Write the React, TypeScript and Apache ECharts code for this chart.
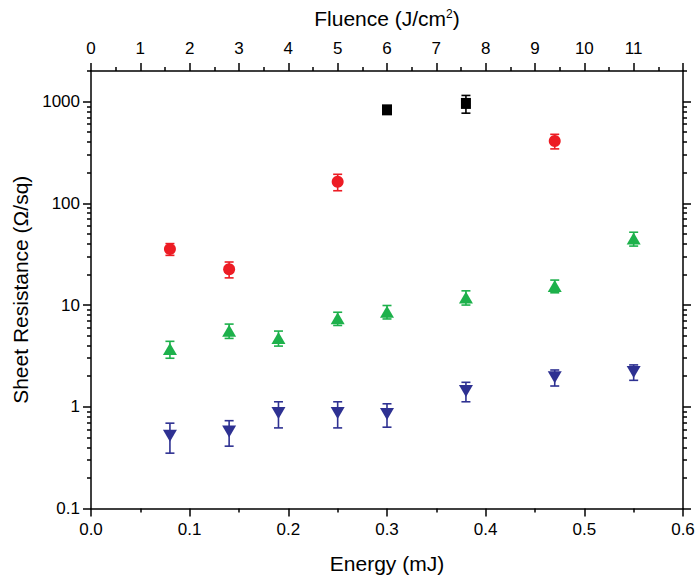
import React, { useEffect, useRef } from "react";
import * as echarts from "echarts";

// ---- data ----
const energyBlack = [0.3, 0.38];
const resBlack = [830, 960];
const errBlack = [50, 190];

const energyRed = [0.08, 0.14, 0.25, 0.47];
const resRed = [35.5, 22.5, 163, 410];
const errRed = [4.7, 4, 30, 67];

const energyGreen = [0.08, 0.14, 0.19, 0.25, 0.3, 0.38, 0.47, 0.55];
const resGreen = [3.7, 5.6, 4.75, 7.4, 8.6, 11.9, 15.4, 45];
const errGreen = [0.7, 0.9, 0.8, 1.1, 1.3, 1.9, 2.2, 7];

const energyBlue = [0.08, 0.14, 0.19, 0.25, 0.3, 0.38, 0.47, 0.55];
const resBlue = [0.52, 0.57, 0.87, 0.87, 0.85, 1.43, 1.95, 2.2];
const errBlue = [0.17, 0.16, 0.25, 0.25, 0.22, 0.31, 0.35, 0.38];

const yMajorTicks = [0.1, 1, 10, 100, 1000];
const yMinorTicks = [
  0.2, 0.3, 0.4, 0.5, 0.6, 0.7, 0.8, 0.9,
  2, 3, 4, 5, 6, 7, 8, 9,
  20, 30, 40, 50, 60, 70, 80, 90,
  200, 300, 400, 500, 600, 700, 800, 900,
  2000,
];

const FONT = "'Liberation Sans', Arial, Helvetica, sans-serif";
const BLACK = "#000000";
const RED = "#ED1C24";
const GREEN = "#1DB14B";
const BLUE = "#2E3192";

const TICK_FS = 17;
const TITLE_FS = 21;

const pts = (xs: number[], ys: number[]) => xs.map((x, i) => [x, ys[i]]);
const errs = (xs: number[], ys: number[], es: number[]) =>
  xs.map((x, i) => [x, ys[i] - es[i], ys[i] + es[i]]);

function errorSeries(data: number[][], color: string) {
  return {
    type: "custom",
    xAxisIndex: 0,
    yAxisIndex: 0,
    clip: false,
    z: 2,
    data,
    encode: { x: 0, y: [1, 2] },
    renderItem: (params: any, api: any) => {
      const x = api.value(0);
      const lo = api.coord([x, api.value(1)]);
      const hi = api.coord([x, api.value(2)]);
      const w = 4.5;
      const st = { stroke: color, lineWidth: 1.6 };
      return {
        type: "group",
        children: [
          { type: "line", shape: { x1: lo[0], y1: lo[1], x2: hi[0], y2: hi[1] }, style: st },
          { type: "line", shape: { x1: lo[0] - w, y1: lo[1], x2: lo[0] + w, y2: lo[1] }, style: st },
          { type: "line", shape: { x1: hi[0] - w, y1: hi[1], x2: hi[0] + w, y2: hi[1] }, style: st },
        ],
      };
    },
  };
}

const axisLineStyle = { color: "#000", width: 1.5 };

export default function App() {
  const ref = useRef<HTMLDivElement>(null);
  useEffect(() => {
    if (!ref.current) return;
    const chart = echarts.init(ref.current, undefined, { renderer: "svg" });
    const yCommon = {
      type: "log",
      logBase: 10,
      min: 0.1,
      max: 2000,
      splitLine: { show: false },
      minorTick: { show: false },
    };
    const option: any = {
      animation: false,
      textStyle: { fontFamily: FONT, color: "#000" },
      grid: { left: 91, right: 16, top: 71, bottom: 78.5, containLabel: false },
      xAxis: [
        {
          type: "value",
          position: "bottom",
          min: 0,
          max: 0.6,
          interval: 0.1,
          name: "Energy (mJ)",
          nameLocation: "middle",
          nameGap: 44,
          nameTextStyle: { fontSize: TITLE_FS, color: "#000", fontFamily: FONT },
          axisLine: { show: true, onZero: false, lineStyle: axisLineStyle },
          axisTick: { show: true, length: 8, lineStyle: axisLineStyle },
          minorTick: { show: true, splitNumber: 2, length: 4, lineStyle: axisLineStyle },
          axisLabel: {
            formatter: (v: number) => v.toFixed(1),
            margin: 12,
            fontSize: TICK_FS,
            color: "#000",
            fontFamily: FONT,
          },
          splitLine: { show: false },
        },
        {
          type: "value",
          position: "top",
          min: 0,
          max: 12,
          interval: 1,
          name: "Fluence (J/cm{sup|2})",
          nameLocation: "middle",
          nameGap: 42,
          nameTextStyle: {
            fontSize: TITLE_FS,
            color: "#000",
            fontFamily: FONT,
            rich: {
              sup: { fontSize: 12, verticalAlign: "top", color: "#000", fontFamily: FONT, padding: [0, 0, 7, 0] },
            },
          },
          axisLine: { show: true, onZero: false, lineStyle: axisLineStyle },
          axisTick: { show: true, length: 8, lineStyle: axisLineStyle },
          minorTick: { show: true, splitNumber: 2, length: 4, lineStyle: axisLineStyle },
          axisLabel: {
            showMaxLabel: false,
            margin: 14,
            fontSize: TICK_FS,
            color: "#000",
            fontFamily: FONT,
          },
          splitLine: { show: false },
        },
      ],
      yAxis: [
        {
          ...yCommon,
          position: "left",
          name: "Sheet Resistance (\u03A9/sq)",
          nameLocation: "middle",
          nameGap: 54,
          nameTextStyle: { fontSize: TITLE_FS, color: "#000", fontFamily: FONT },
          axisLine: { show: true, onZero: false, lineStyle: axisLineStyle },
          axisTick: { show: true, length: 8, lineStyle: axisLineStyle, customValues: yMajorTicks },
          axisLabel: {
            customValues: yMajorTicks,
            formatter: (v: number) => (v < 1 ? v.toFixed(1) : v.toFixed(0)),
            margin: 11,
            fontSize: TICK_FS,
            color: "#000",
            fontFamily: FONT,
          },
        },
        {
          ...yCommon,
          position: "right",
          axisLine: { show: true, onZero: false, lineStyle: axisLineStyle },
          axisTick: { show: true, length: 8, lineStyle: axisLineStyle, customValues: yMajorTicks },
          axisLabel: { show: false },
        },
        {
          ...yCommon,
          position: "left",
          axisLine: { show: false, onZero: false },
          axisTick: { show: true, length: 4, lineStyle: axisLineStyle, customValues: yMinorTicks },
          axisLabel: { show: false },
        },
        {
          ...yCommon,
          position: "right",
          axisLine: { show: false, onZero: false },
          axisTick: { show: true, length: 4, lineStyle: axisLineStyle, customValues: yMinorTicks },
          axisLabel: { show: false },
        },
      ],
      series: [
        errorSeries(errs(energyBlack, resBlack, errBlack), BLACK),
        errorSeries(errs(energyRed, resRed, errRed), RED),
        errorSeries(errs(energyGreen, resGreen, errGreen), GREEN),
        errorSeries(errs(energyBlue, resBlue, errBlue), BLUE),
        {
          type: "scatter",
          xAxisIndex: 0,
          yAxisIndex: 0,
          z: 3,
          symbol: "rect",
          symbolSize: [10, 11],
          itemStyle: { color: BLACK, opacity: 1 },
          data: pts(energyBlack, resBlack),
        },
        {
          type: "scatter",
          xAxisIndex: 0,
          yAxisIndex: 0,
          z: 3,
          symbol: "circle",
          symbolSize: 12,
          itemStyle: { color: RED, opacity: 1 },
          data: pts(energyRed, resRed),
        },
        {
          type: "scatter",
          xAxisIndex: 0,
          yAxisIndex: 0,
          z: 3,
          symbol: "triangle",
          symbolSize: [14, 12],
          itemStyle: { color: GREEN, opacity: 1 },
          data: pts(energyGreen, resGreen),
        },
        {
          type: "scatter",
          xAxisIndex: 0,
          yAxisIndex: 0,
          z: 3,
          symbol: "triangle",
          symbolRotate: 180,
          symbolSize: [14, 12],
          itemStyle: { color: BLUE, opacity: 1 },
          data: pts(energyBlue, resBlue),
        },
      ],
    };
    chart.setOption(option);
    return () => chart.dispose();
  }, []);
  return (
    <div
      ref={ref}
      style={{ position: "fixed", left: 0, top: 0, width: 699, height: 587, background: "#fff" }}
    />
  );
}
